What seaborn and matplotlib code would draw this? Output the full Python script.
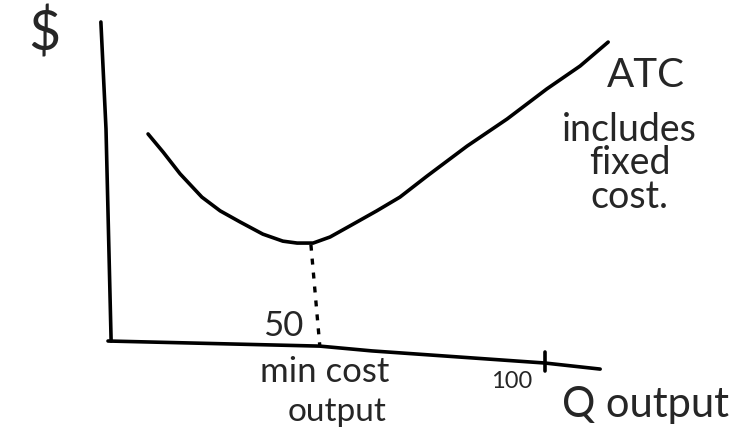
import matplotlib
matplotlib.use("Agg")
import matplotlib.pyplot as plt
import seaborn as sns
import pandas as pd

# ATC curve (hand-drawn sketch)
q_curve = [10.8, 14.2, 18.0, 22.9, 27.0, 31.5, 36.6, 41.1, 44.3, 47.9, 51.7, 56.2, 62.2,
           67.4, 73.5, 82.5, 91.5, 100.4, 107.9, 114.2]
atc_curve = [64.9, 59.2, 52.4, 45.1, 40.8, 37.3, 33.5, 31.3, 30.7, 30.7, 32.6, 36.1, 40.8,
             45.1, 51.7, 61.1, 69.6, 79.0, 86.2, 93.7]

# hand-drawn axes
yaxis_q = [0.2, 1.35, 2.5]
yaxis_v = [100, 66.5, 0]
xaxis_q = [1.8, 49.4, 61.1, 100, 112.4]
xaxis_v = [0, -1.6, -3.1, -6.9, -8.8]

# min-cost dotted drop line
drop_q = [47.4, 49.4]
drop_v = [30.2, -1.6]

# tick at 100
tick_q = [100.0, 100.0]
tick_v = [-3.4, -9.4]

labels = {
    "dollar": r"\$",
    "atc": "ATC",
    "note": ["includes", "fixed", "cost."],
    "fifty": "50",
    "min1": "min cost",
    "min2": "output",
    "hundred": "100",
    "qout": "Q output",
}

sns.set_style("white")
plt.rcParams["font.family"] = ["Lato", "DejaVu Sans"]

fig = plt.figure(figsize=(7.43, 4.39), dpi=100)
ax = fig.add_axes([0, 0, 1, 1])
ax.set_xlim(-22.47, 144.5)
ax.set_ylim(-30.4, 107.2)
ax.axis("off")

lw = 2.6
df = pd.DataFrame({"Q": q_curve, "ATC": atc_curve})
sns.lineplot(data=df, x="Q", y="ATC", sort=False, color="black", lw=lw, ax=ax,
             solid_joinstyle="round", solid_capstyle="round")
ax.plot(yaxis_q, yaxis_v, color="black", lw=lw, solid_capstyle="round", solid_joinstyle="round")
ax.plot(xaxis_q, xaxis_v, color="black", lw=lw, solid_capstyle="round", solid_joinstyle="round")
ax.plot(tick_q, tick_v, color="black", lw=lw)
ax.plot(drop_q, drop_v, color="black", lw=2.4, linestyle=(0, (1.8, 2.4)))

ax.text(-12.6, 96.5, labels["dollar"], fontsize=40, ha="center", va="center")
ax.text(122.7, 83.5, labels["atc"], fontsize=29, ha="center", va="center")
for t, y in zip(labels["note"], [66.5, 56.2, 45.5]):
    ax.text(119, y, t, fontsize=27, ha="center", va="center")
ax.text(41.1, 5, labels["fifty"], fontsize=25, ha="center", va="center")
ax.text(50.6, -9.4, labels["min1"], fontsize=25, ha="center", va="center")
ax.text(53.3, -21.9, labels["min2"], fontsize=24, ha="center", va="center")
ax.text(92.6, -12.5, labels["hundred"], fontsize=17, ha="center", va="center")
ax.text(122.5, -19.7, labels["qout"], fontsize=30, ha="center", va="center")

fig.savefig("out.png", dpi=100)
